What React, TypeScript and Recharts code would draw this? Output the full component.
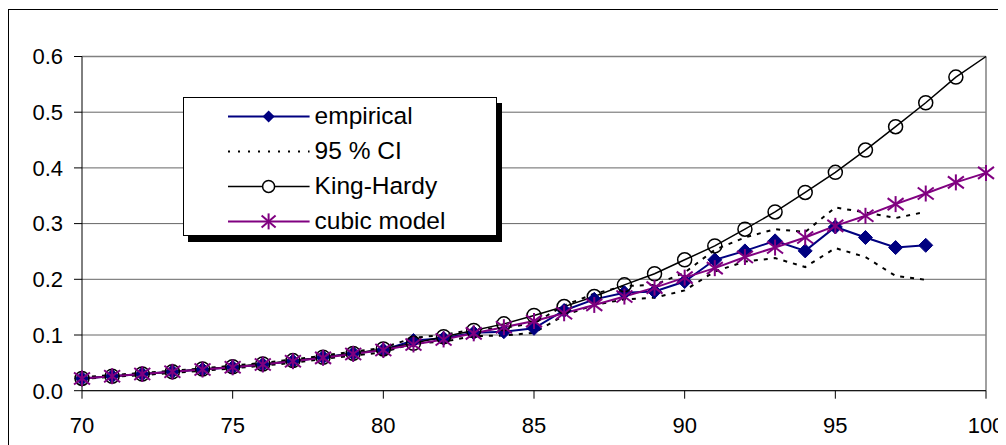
import React from "react";
import { LineChart, Line, XAxis, YAxis, CartesianGrid, ReferenceLine } from "recharts";

const ages = [70, 71, 72, 73, 74, 75, 76, 77, 78, 79, 80, 81, 82, 83, 84, 85, 86, 87, 88, 89, 90, 91, 92, 93, 94, 95, 96, 97, 98, 99, 100];

const empirical = [0.022, 0.026, 0.030, 0.034, 0.038, 0.042, 0.047, 0.053, 0.060, 0.067, 0.073, 0.090, 0.094, 0.104, 0.106, 0.112, 0.144, 0.164, 0.176, 0.178, 0.196, 0.235, 0.251, 0.269, 0.251, 0.294, 0.275, 0.257, 0.261, null, null];

const ciLower = [0.021, 0.025, 0.028, 0.032, 0.036, 0.040, 0.045, 0.050, 0.057, 0.063, 0.069, 0.085, 0.088, 0.098, 0.099, 0.104, 0.135, 0.154, 0.164, 0.167, 0.180, 0.214, 0.232, 0.238, 0.222, 0.256, 0.240, 0.206, 0.199, null, null];

const ciUpper = [0.024, 0.028, 0.032, 0.036, 0.040, 0.045, 0.050, 0.056, 0.063, 0.070, 0.077, 0.095, 0.100, 0.110, 0.113, 0.121, 0.153, 0.174, 0.188, 0.190, 0.212, 0.253, 0.275, 0.290, 0.285, 0.329, 0.320, 0.310, 0.321, null, null];

const kingHardy = [0.022, 0.026, 0.030, 0.034, 0.039, 0.043, 0.048, 0.054, 0.060, 0.067, 0.075, 0.085, 0.097, 0.108, 0.120, 0.135, 0.151, 0.169, 0.190, 0.210, 0.235, 0.260, 0.290, 0.321, 0.356, 0.392, 0.432, 0.474, 0.517, 0.563, 0.600];

const cubic = [0.022, 0.026, 0.030, 0.034, 0.038, 0.042, 0.047, 0.053, 0.059, 0.066, 0.073, 0.083, 0.092, 0.103, 0.114, 0.125, 0.139, 0.154, 0.169, 0.185, 0.203, 0.220, 0.240, 0.257, 0.275, 0.296, 0.314, 0.335, 0.354, 0.374, 0.391];

const xTicks = [70, 75, 80, 85, 90, 95, 100];
const yTicks = [0, 0.1, 0.2, 0.3, 0.4, 0.5, 0.6];

const legendLabels = ["empirical", "95 % CI", "King-Hardy", "cubic model"];

const data = ages.map((a, i) => ({
  age: a,
  empirical: empirical[i],
  ciLower: ciLower[i],
  ciUpper: ciUpper[i],
  kingHardy: kingHardy[i],
  cubic: cubic[i],
}));

const NAVY = "#000080";
const PURPLE = "#800080";
const FONT = "'Liberation Sans', Arial, sans-serif";

const Diamond = (props: any) => {
  const { cx, cy, index } = props;
  if (cx == null || cy == null || props.value == null) return <g key={"d" + index} />;
  const r = 7;
  return (
    <path
      key={"d" + index}
      d={`M${cx},${cy - r}L${cx + r},${cy}L${cx},${cy + r}L${cx - r},${cy}Z`}
      fill={NAVY}
      stroke={NAVY}
      strokeWidth={1}
    />
  );
};

const Circle = (props: any) => {
  const { cx, cy, index } = props;
  if (cx == null || cy == null || index === ages.length - 1) return <g key={"c" + index} />;
  return <circle key={"c" + index} cx={cx} cy={cy} r={7} fill="none" stroke="#000" strokeWidth={1.5} />;
};

const Star = (props: any) => {
  const { cx, cy, index } = props;
  if (cx == null || cy == null) return <g key={"s" + index} />;
  return (
    <g key={"s" + index} stroke={PURPLE} strokeWidth={2}>
      <line x1={cx} y1={cy - 8} x2={cx} y2={cy + 8} />
      <line x1={cx - 8} y1={cy - 6} x2={cx + 8} y2={cy + 6} />
      <line x1={cx - 8} y1={cy + 6} x2={cx + 8} y2={cy - 6} />
    </g>
  );
};

const XTick = (props: any) => {
  const { x, y, payload } = props;
  return (
    <text x={x} y={y} dy={15.6} textAnchor="middle" fontSize={22} fontFamily={FONT} fill="#000">
      {payload.value}
    </text>
  );
};

const YTick = (props: any) => {
  const { x, y, payload } = props;
  return (
    <text x={x} y={y} dy={7.8} textAnchor="end" fontSize={22} fontFamily={FONT} fill="#000">
      {Number(payload.value).toFixed(1)}
    </text>
  );
};

const LegendBox = () => {
  const rows = [18.4, 53.4, 88.4, 123.4];
  const x1 = 44;
  const x2 = 125.6;
  const mx = 84.6;
  return (
    <div
      style={{
        position: "absolute",
        left: 173.7,
        top: 87.3,
        width: 312,
        height: 137,
        border: "1px solid #000",
        background: "#fff",
        boxShadow: "5px 6px 0 #000",
      }}
    >
      <svg width={312} height={137} style={{ display: "block" }}>
        <line x1={x1} y1={rows[0]} x2={x2} y2={rows[0]} stroke={NAVY} strokeWidth={2} />
        <path d={`M${mx},${rows[0] - 6}L${mx + 6},${rows[0]}L${mx},${rows[0] + 6}L${mx - 6},${rows[0]}Z`} fill={NAVY} />
        <line x1={x1} y1={rows[1]} x2={x2} y2={rows[1]} stroke="#000" strokeWidth={2} strokeDasharray="2 8" />
        <line x1={x1} y1={rows[2]} x2={x2} y2={rows[2]} stroke="#000" strokeWidth={1.5} />
        <circle cx={mx} cy={rows[2]} r={6} fill="#fff" stroke="#000" strokeWidth={1.5} />
        <line x1={x1} y1={rows[3]} x2={x2} y2={rows[3]} stroke={PURPLE} strokeWidth={2} />
        <g stroke={PURPLE} strokeWidth={2}>
          <line x1={mx} y1={rows[3] - 8} x2={mx} y2={rows[3] + 8} />
          <line x1={mx - 7} y1={rows[3] - 6} x2={mx + 7} y2={rows[3] + 6} />
          <line x1={mx - 7} y1={rows[3] + 6} x2={mx + 7} y2={rows[3] - 6} />
        </g>
        {legendLabels.map((t, i) => (
          <text key={t} x={130.6} y={rows[i] + 8} fontSize={24.5} fontFamily={FONT} fill="#000">
            {t}
          </text>
        ))}
      </svg>
    </div>
  );
};

export default function App() {
  return (
    <div
      style={{
        position: "relative",
        top: 1,
        width: 994,
        height: 436,
        border: "1px solid #000",
        borderBottom: "none",
        background: "#fff",
      }}
    >
      <LineChart width={994} height={436} data={data} margin={{ top: 46.5, right: 17, bottom: 25, left: 0 }}>
        <CartesianGrid vertical={false} stroke="#666" strokeWidth={1} />
        <XAxis
          dataKey="age"
          type="number"
          domain={[70, 100]}
          ticks={xTicks}
          interval={0}
          height={30.3}
          stroke="#000"
          tickSize={8}
          tickMargin={19}
          tick={<XTick />}
          tickLine={{ stroke: "#000" }}
        />
        <YAxis
          type="number"
          domain={[0, 0.6]}
          ticks={yTicks}
          interval={0}
          width={73}
          stroke="#000"
          tickSize={8}
          tickMargin={11}
          tick={<YTick />}
          tickLine={{ stroke: "#000" }}
        />
        <ReferenceLine y={0.6} stroke="#808080" strokeWidth={1.5} />
        <ReferenceLine x={100} stroke="#808080" strokeWidth={1.5} />
        <Line dataKey="empirical" stroke={NAVY} strokeWidth={2} dot={<Diamond />} isAnimationActive={false} connectNulls={false} />
        <Line dataKey="ciLower" stroke="#000" strokeWidth={2} strokeDasharray="4 6" dot={false} isAnimationActive={false} />
        <Line dataKey="ciUpper" stroke="#000" strokeWidth={2} strokeDasharray="4 6" dot={false} isAnimationActive={false} />
        <Line dataKey="kingHardy" stroke="#000" strokeWidth={1.5} dot={<Circle />} isAnimationActive={false} />
        <Line dataKey="cubic" stroke={PURPLE} strokeWidth={2} dot={<Star />} isAnimationActive={false} />
      </LineChart>
      <LegendBox />
    </div>
  );
}
